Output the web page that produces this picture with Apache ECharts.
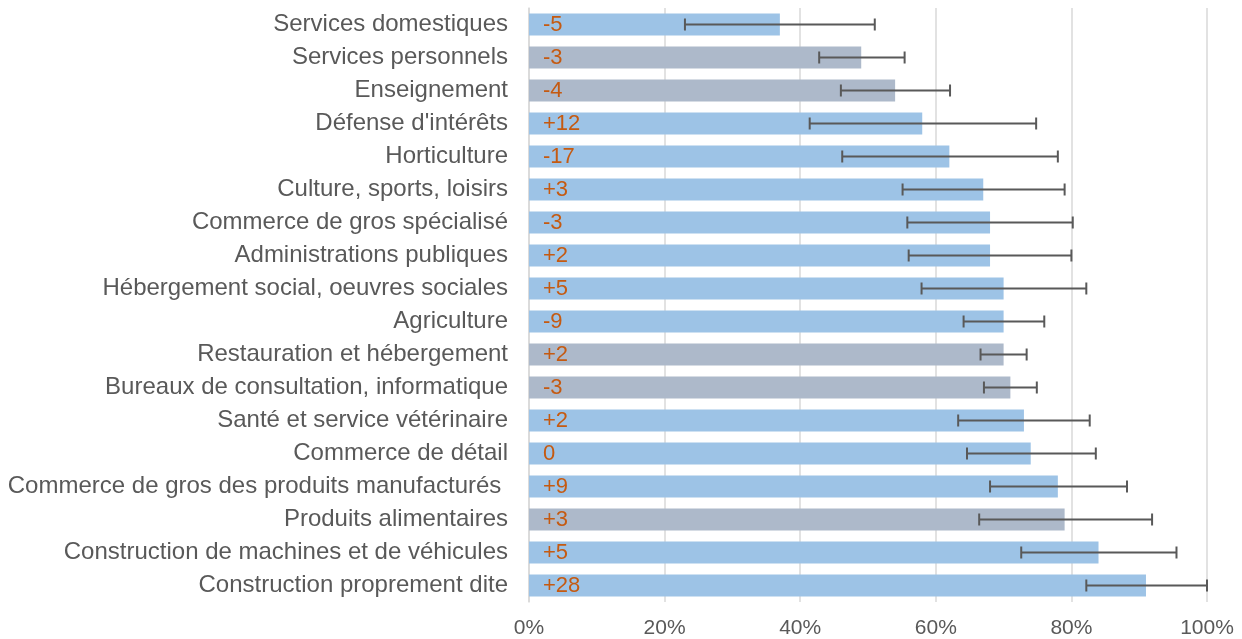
<!DOCTYPE html>
<html>
<head>
<meta charset="utf-8">
<script src="https://cdn.jsdelivr.net/npm/echarts@6/dist/echarts.min.js"></script>
<style>
html,body{margin:0;padding:0;background:#fff;}
#chart{width:1242px;height:639px;}
</style>
</head>
<body>
<div id="chart"></div>
<script>
const categories = ["Services domestiques","Services personnels","Enseignement","Défense d'intérêts","Horticulture","Culture, sports, loisirs","Commerce de gros spécialisé","Administrations publiques","Hébergement social, oeuvres sociales","Agriculture","Restauration et hébergement","Bureaux de consultation, informatique","Santé et service vétérinaire","Commerce de détail","Commerce de gros des produits manufacturés ","Produits alimentaires","Construction de machines et de véhicules","Construction proprement dite"];
const values = [37,49,54,58,62,67,68,68,70,70,70,71,73,74,78,79,84,91];
const lowValues = [23,42.8,46,41.4,46.2,55.1,55.8,56,57.9,64.1,66.6,67.1,63.3,64.6,68,66.4,72.6,82.2];
const highValues = [51,55.4,62.1,74.8,78,79,80.2,80,82.2,76,73.4,74.9,82.7,83.6,88.2,91.9,95.5,100];
const changes = ["-5","-3","-4","+12","-17","+3","-3","+2","+5","-9","+2","-3","+2","0","+9","+3","+5","+28"];
const secondGroup = [false,true,true,false,false,false,false,false,false,false,true,true,false,false,false,true,false,false];
const xTicks = [0,20,40,60,80,100];

const colorA = '#9DC3E6', colorB = '#ADB9CA';
const chart = echarts.init(document.getElementById('chart'));
chart.setOption({
  animation:false,
  grid:{left:529,right:35,top:8,bottom:34.5,containLabel:false},
  xAxis:{type:'value',min:xTicks[0],max:xTicks[xTicks.length-1],interval:20,
    axisLine:{show:false},axisTick:{show:false},
    splitLine:{lineStyle:{color:'#D9D9D9',width:1.5}},
    axisLabel:{formatter:'{value}%',color:'#595959',fontSize:21,fontFamily:'Liberation Sans, Arial, sans-serif',margin:16}},
  yAxis:{type:'category',data:categories,inverse:true,
    axisLine:{show:true,lineStyle:{color:'#D9D9D9',width:1.5}},axisTick:{show:false},
    axisLabel:{color:'#595959',fontSize:24,fontFamily:'Liberation Sans, Arial, sans-serif',margin:21}},
  series:[
    {type:'bar',barCategoryGap:'33%',
     data:values.map((v,i)=>({value:v,itemStyle:{color:secondGroup[i]?colorB:colorA}})),
     label:{show:true,position:'insideLeft',distance:14,color:'#C55A11',fontSize:22,
       fontFamily:'Liberation Sans, Arial, sans-serif',
       formatter:p=>changes[p.dataIndex]}},
    {type:'custom',
     data:lowValues.map((l,i)=>[i,l,highValues[i]]),
     encode:{y:0,x:[1,2]},
     renderItem:function(params,api){
       const idx=api.value(0);
       const p1=api.coord([api.value(1),idx]);
       const p2=api.coord([api.value(2),idx]);
       const h=6;
       const st={stroke:'#595959',lineWidth:2};
       return {type:'group',children:[
         {type:'line',shape:{x1:p1[0],y1:p1[1],x2:p2[0],y2:p2[1]},style:st},
         {type:'line',shape:{x1:p1[0],y1:p1[1]-h,x2:p1[0],y2:p1[1]+h},style:st},
         {type:'line',shape:{x1:p2[0],y1:p2[1]-h,x2:p2[0],y2:p2[1]+h},style:st}
       ]};
     },z:5}
  ]
});
</script>
</body>
</html>
